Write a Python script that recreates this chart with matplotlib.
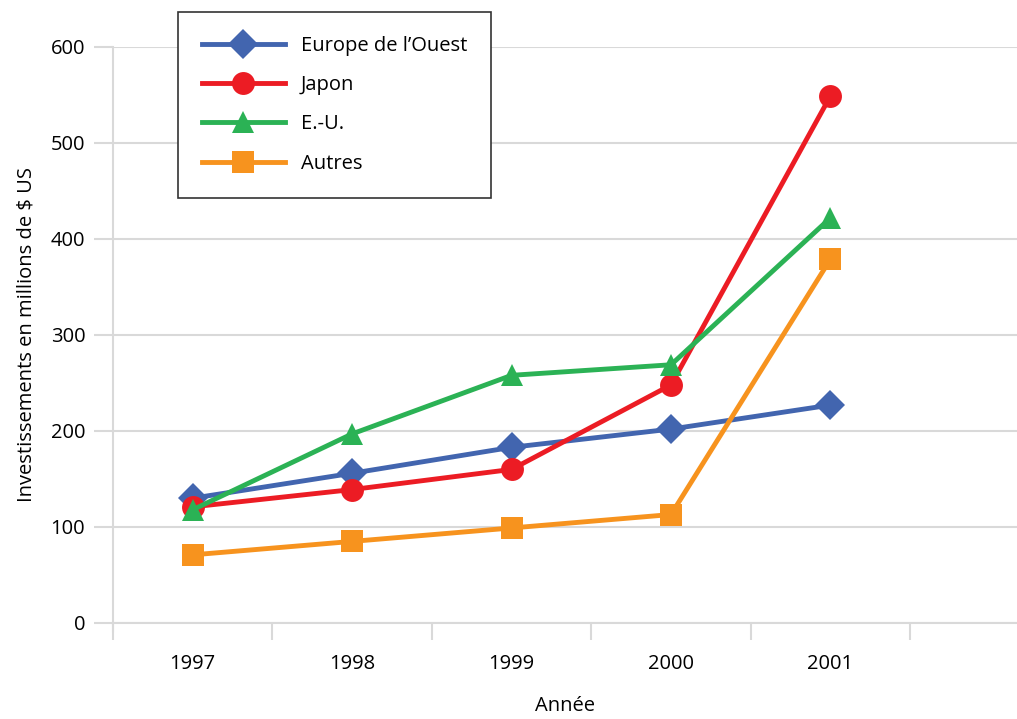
import numpy as np
import matplotlib
matplotlib.use("Agg")
import matplotlib.pyplot as plt

plt.rcParams['font.family'] = ['Open Sans', 'DejaVu Sans']

years = ['1997', '1998', '1999', '2000', '2001']
europe = [130, 156, 183, 202, 227]
japon = [121, 139, 160, 248, 549]
eu = [118, 197, 258, 269, 422]
autres = [71, 85, 99, 113, 379]

series = [
    ("Europe de l\u2019Ouest", europe, '#4265AF', 'D', 15),
    ("Japon", japon, '#EC1C24', 'o', 16.5),
    ("E.-U.", eu, '#2BB255', '^', 16.5),
    ("Autres", autres, '#F7931E', 's', 15.5),
]

grid_col = '#d9d9d9'
fs = 14.5

fig = plt.figure(figsize=(10.17, 7.19), dpi=100)
ax = fig.add_axes([113 / 1017, 1 - 623 / 719, (1017 - 113) / 1017, (623 - 47) / 719])

x = np.arange(len(years))
for name, vals, col, mk, ms in series:
    ax.plot(x, vals, color=col, lw=3.5, marker=mk, markersize=ms,
            markeredgewidth=0, label=name, clip_on=False)

ax.set_ylim(0, 600)
ax.set_xlim(-0.5, 5.17)
ax.set_yticks(np.arange(0, 601, 100))
ax.yaxis.grid(True, color=grid_col, lw=1.5)
ax.set_axisbelow(True)

# ticks between categories, labels at categories
ax.set_xticks(np.arange(-0.5, 5.0, 1.0))
ax.set_xticklabels([])
ax.set_xticks(x, minor=True)
ax.set_xticklabels(years, minor=True)
ax.tick_params(axis='x', which='major', length=12, width=1.5, color=grid_col)
ax.tick_params(axis='x', which='minor', length=0, pad=22, labelsize=fs)
ax.tick_params(axis='y', length=14, width=1.5, color=grid_col, pad=6, labelsize=fs)

for s in ['top', 'right']:
    ax.spines[s].set_visible(False)
ax.spines['left'].set_color(grid_col)
ax.spines['left'].set_linewidth(1.5)
ax.spines['left'].set_bounds(-8, 600)
ax.spines['bottom'].set_color(grid_col)
ax.spines['bottom'].set_linewidth(1.5)

ax.set_xlabel('Année', fontsize=fs, labelpad=16)
ax.set_ylabel('Investissements en millions de $ US', fontsize=fs, labelpad=10)

leg = ax.legend(loc='upper left', bbox_to_anchor=(178 / 1017, 1 - 12 / 719),
                bbox_transform=fig.transFigure, fontsize=fs, handlelength=4.1,
                handletextpad=0.8, labelspacing=0.95, borderpad=1.2,
                borderaxespad=0, fancybox=False, edgecolor='#333333', framealpha=1)
leg.get_frame().set_linewidth(1.2)

fig.savefig('out.png', dpi=100)
